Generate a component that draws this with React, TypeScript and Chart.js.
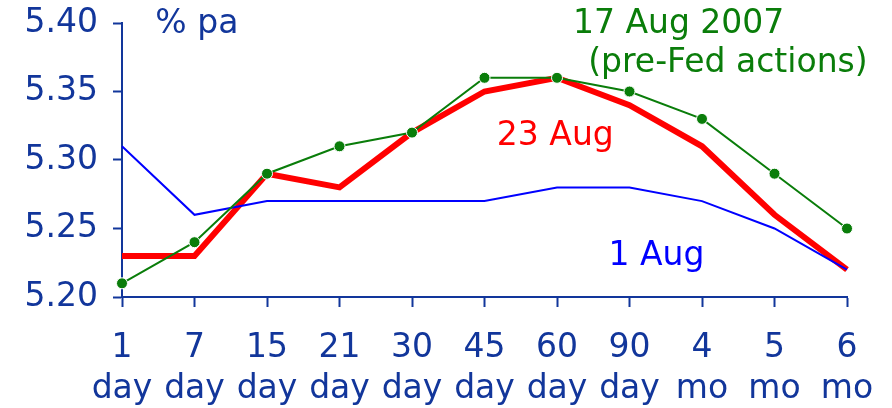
import React, { useEffect, useRef } from "react";
import { Chart, registerables } from "chart.js";

Chart.register(...registerables);

const categories: string[][] = [
  ["1", "day"], ["7", "day"], ["15", "day"], ["21", "day"], ["30", "day"],
  ["45", "day"], ["60", "day"], ["90", "day"], ["4", "mo"], ["5", "mo"], ["6", "mo"],
];

const aug1 = [5.31, 5.26, 5.27, 5.27, 5.27, 5.27, 5.28, 5.28, 5.27, 5.25, 5.22];
const aug17 = [5.21, 5.24, 5.29, 5.31, 5.32, 5.36, 5.36, 5.35, 5.33, 5.29, 5.25];
const aug23 = [5.23, 5.23, 5.29, 5.28, 5.32, 5.35, 5.36, 5.34, 5.31, 5.26, 5.22];

const yMin = 5.2;
const yMax = 5.4;
const yStep = 0.05;

// annotation anchors in data space (category index, value)
const notes = [
  { text: "% pa", color: "#12369b", x: 0.46, y: 5.3927 },
  { text: "17 Aug 2007", color: "#0a7d0a", x: 6.22, y: 5.3927 },
  { text: "(pre-Fed actions)", color: "#0a7d0a", x: 6.43, y: 5.3642 },
  { text: "23 Aug", color: "#ff0000", x: 5.17, y: 5.311 },
  { text: "1 Aug", color: "#0000ff", x: 6.71, y: 5.2234 },
];

const AXIS = "#12369b";
const FONT = "'DejaVu Sans', Verdana, sans-serif";

const notesPlugin = {
  id: "notes",
  afterDatasetsDraw(chart: any) {
    const { ctx, scales } = chart;
    ctx.save();
    ctx.font = `33px ${FONT}`;
    ctx.textAlign = "left";
    ctx.textBaseline = "alphabetic";
    for (const n of notes) {
      ctx.fillStyle = n.color;
      ctx.fillText(n.text, scales.x.getPixelForValue(n.x), scales.y.getPixelForValue(n.y));
    }
    ctx.restore();
  },
};

export default function App() {
  const ref = useRef<HTMLCanvasElement>(null);
  useEffect(() => {
    if (!ref.current) return;
    const chart = new Chart(ref.current, {
      type: "line",
      data: {
        labels: categories,
        datasets: [
          {
            label: "17 Aug 2007",
            data: aug17,
            borderColor: "#0a7d0a",
            backgroundColor: "#0a7d0a",
            borderWidth: 2,
            pointRadius: 5.5,
            pointBorderColor: "#ffffff",
            pointBorderWidth: 1,
            pointBackgroundColor: "#0a7d0a",
            tension: 0,
            order: 0,
          },
          {
            label: "1 Aug",
            data: aug1,
            borderColor: "#0000ff",
            borderWidth: 2,
            pointRadius: 0,
            tension: 0,
            order: 1,
          },
          {
            label: "23 Aug",
            data: aug23,
            borderColor: "#ff0000",
            borderWidth: 6,
            pointRadius: 0,
            tension: 0,
            borderJoinStyle: "miter",
            order: 2,
          },
        ],
      },
      options: {
        animation: false,
        responsive: false,
        events: [],
        layout: { padding: { left: 0, right: 45, top: 23, bottom: 0 } },
        plugins: { legend: { display: false }, tooltip: { enabled: false } },
        scales: {
          x: {
            offset: false,
            grid: {
              drawOnChartArea: false,
              drawTicks: true,
              tickLength: 10,
              tickWidth: 2,
              tickColor: AXIS,
              color: AXIS,
            },
            border: { display: true, color: AXIS, width: 2 },
            ticks: {
              color: AXIS,
              font: { family: FONT, size: 33, lineHeight: 1.24 },
              padding: 21,
              maxRotation: 0,
              autoSkip: false,
            },
            afterFit(scale: any) {
              scale.height = 111;
              scale.paddingLeft = 0;
              scale.paddingRight = 0;
            },
          },
          y: {
            min: yMin,
            max: yMax,
            grid: {
              drawOnChartArea: false,
              drawTicks: true,
              tickLength: 9,
              tickWidth: 2,
              tickColor: AXIS,
              color: AXIS,
            },
            border: { display: true, color: AXIS, width: 2 },
            ticks: {
              stepSize: yStep,
              color: AXIS,
              font: { family: FONT, size: 33 },
              padding: 15,
              callback: (v: any) => Number(v).toFixed(2),
            },
            afterFit(scale: any) {
              scale.width = 122;
              scale.paddingTop = 0;
              scale.paddingBottom = 0;
            },
          },
        },
      },
      plugins: [notesPlugin],
    });
    return () => chart.destroy();
  }, []);
  return (
    <div style={{ position: "absolute", left: 0, top: 0, width: 892, height: 408 }}>
      <canvas ref={ref} width={892} height={408} />
    </div>
  );
}
